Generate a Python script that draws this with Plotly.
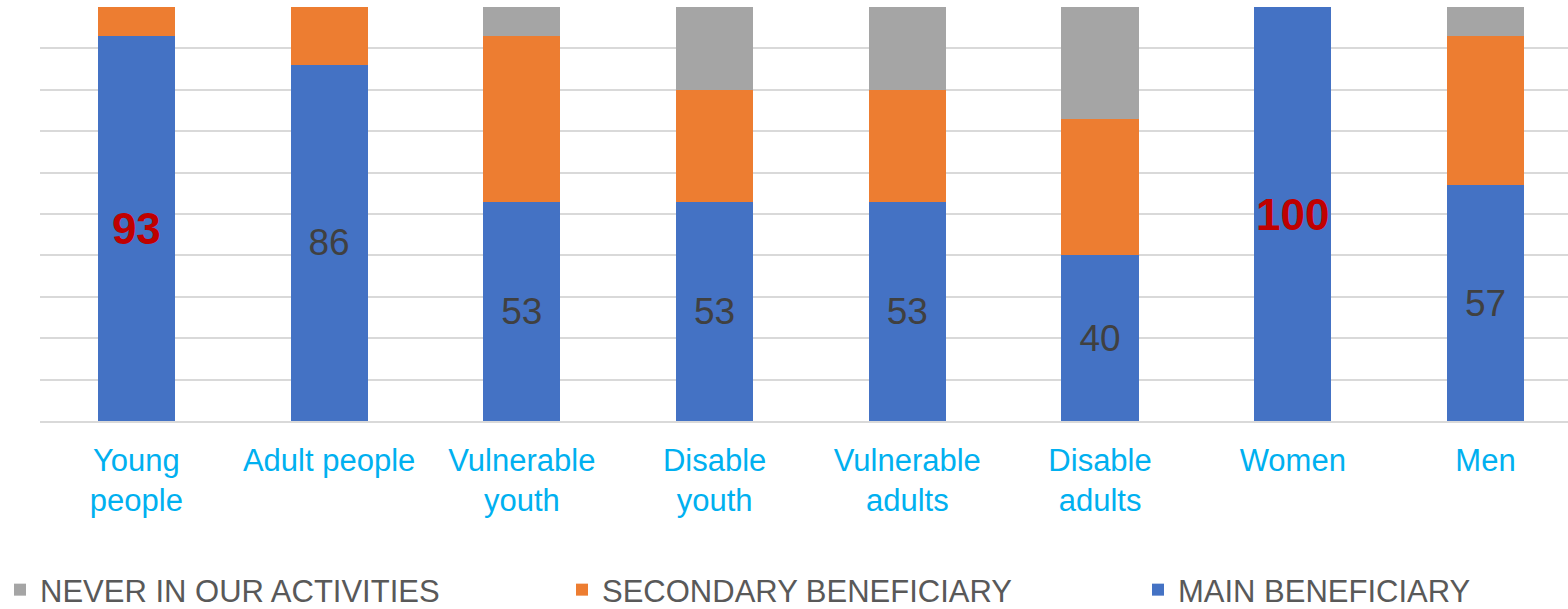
import plotly.graph_objects as go

categories = ["Young<br>people", "Adult people", "Vulnerable<br>youth", "Disable<br>youth",
              "Vulnerable<br>adults", "Disable<br>adults", "Women", "Men"]
main_beneficiary = [93, 86, 53, 53, 53, 40, 100, 57]
secondary_beneficiary = [7, 14, 40, 27, 27, 33, 0, 36]
never_in_activities = [0, 0, 7, 20, 20, 27, 0, 7]
highlighted = [0, 6]  # indices of labels drawn in bold red

FONT = "Liberation Sans, Arial, sans-serif"
W, H = 1568, 609

main_text = []
main_colors = []
main_sizes = []
for i, v in enumerate(main_beneficiary):
    if i in highlighted:
        main_text.append(f"<b>{v}</b>")
        main_colors.append("#C00000")
        main_sizes.append(44)
    else:
        main_text.append(str(v))
        main_colors.append("#404040")
        main_sizes.append(37)

fig = go.Figure()
fig.add_trace(go.Bar(
    x=categories, y=main_beneficiary, name="MAIN BENEFICIARY",
    marker=dict(color="#4472C4", line=dict(width=0)),
    text=main_text, textposition="inside", insidetextanchor="middle",
    textangle=0, constraintext="none",
    textfont=dict(color=main_colors, size=main_sizes, family=FONT),
    hoverinfo="skip", legend="legend3",
))
fig.add_trace(go.Bar(
    x=categories, y=secondary_beneficiary, name="SECONDARY BENEFICIARY",
    marker=dict(color="#ED7D31", line=dict(width=0)), hoverinfo="skip",
    legend="legend2",
))
fig.add_trace(go.Bar(
    x=categories, y=never_in_activities, name="NEVER IN OUR ACTIVITIES",
    marker=dict(color="#A5A5A5", line=dict(width=0)), hoverinfo="skip",
    legend="legend",
))


def legend_at(text_left_px):
    return dict(
        orientation="h",
        xref="container", yref="container",
        x=max(text_left_px - 40, 0) / W, y=(H - 590) / H,
        xanchor="left", yanchor="middle",
        font=dict(size=31, color="#595959", family=FONT),
        bgcolor="rgba(0,0,0,0)",
    )


fig.update_layout(
    barmode="stack",
    bargap=0.6,
    width=W, height=H,
    margin=dict(l=40, r=0, t=7, b=188, autoexpand=False),
    paper_bgcolor="white", plot_bgcolor="white",
    font=dict(family=FONT),
    showlegend=True,
    legend=legend_at(36),
    legend2=legend_at(602),
    legend3=legend_at(1178),
    xaxis=dict(
        range=[-0.5, 7.428],
        showgrid=False, showline=True, linecolor="#d9d9d9", linewidth=1.5,
        ticks="", tickfont=dict(size=31, color="#00B0F0", family=FONT),
        ticklabelstandoff=11, fixedrange=True,
    ),
    yaxis=dict(
        range=[0, 100], dtick=10, showticklabels=False,
        showgrid=True, gridcolor="#d9d9d9", gridwidth=1.5,
        zeroline=False, showline=False, fixedrange=True,
    ),
)

fig.write_html("out.html")
